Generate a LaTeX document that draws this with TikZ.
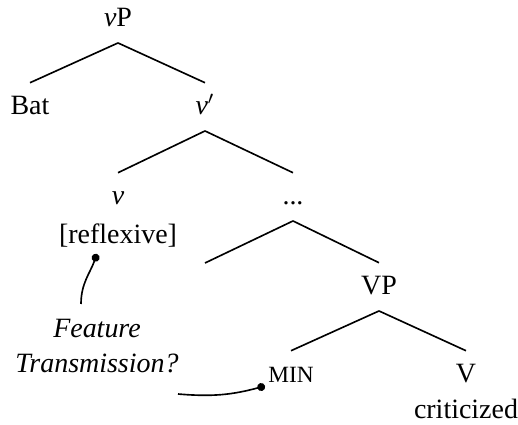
\documentclass[tikz,border=0pt]{standalone}
\usepackage{fontspec}
\setmainfont{Liberation Serif}
\usetikzlibrary{arrows.meta}
\begin{document}
\begin{tikzpicture}[x=0.4293pt,y=-0.4293pt,line width=0.7pt,
    every node/.style={anchor=base,inner xsep=2pt,inner ysep=4.5pt,
      text height=9pt,text depth=2pt,font=\fontsize{12}{14}\selectfont}]
      \useasboundingbox (0,0) rectangle (518,425);
      \draw
        (118,27) node (vP){\textit{v}P}
        (30,115) node (Bat){Bat}
        (205,115) node (vbar){\textit{v}$'$}
        (118,205) node (v){\textit{v}}
        (118,244) node (refl){[reflexive]}
        (293,205) node (dots){...}
        (379,295) node (VP){VP}
        (291,383) node (min){\fontsize{10}{12}\selectfont MIN}
        (466,383) node (V){V}
        (466,419) node (crit){criticized}
        (97,338) node (feat){\textit{Feature}}
        (97,373) node (trans){\textit{Transmission?}};
      \coordinate (gap) at (205,263);
      \coordinate (ftup) at (81,304);
      \coordinate (ftdot) at (97,254);
      \coordinate (ftright) at (178,394);
      \coordinate (mindot) at (265,386);
      \begin{scope}[-]
        \draw (vP.south) to (Bat.north);
        \draw (vP.south) to (vbar.north);
        \draw (vbar.south) to (v.north);
        \draw (vbar.south) to (dots.north);
        \draw (dots.south) to (gap);
        \draw (dots.south) to (VP.north);
        \draw (VP.south) to (min.north);
        \draw (VP.south) to (V.north);
      \end{scope}
      \begin{scope}[-{Circle[length=3.4pt]}]
        \draw (ftup) to[out=90,in=-110] (ftdot);
        \draw (ftright) to[out=-5,in=195] (mindot);
      \end{scope}
    \end{tikzpicture}
\end{document}
